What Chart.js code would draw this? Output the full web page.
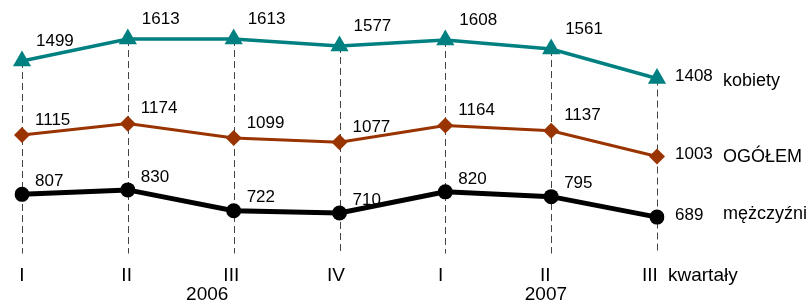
<!DOCTYPE html>
<html>
<head>
<meta charset="utf-8">
<script src="https://cdn.jsdelivr.net/npm/chart.js@4/dist/chart.umd.min.js"></script>
<style>
html, body { margin: 0; padding: 0; background: #fff; }
#wrap { width: 811px; height: 305px; }
</style>
</head>
<body>
<div id="wrap"><canvas id="chart"></canvas></div>
<script>
// kwartały 2006 I – 2007 III
const quarters = ['I', 'II', 'III', 'IV', 'I', 'II', 'III'];
const kobiety = [1499, 1613, 1613, 1577, 1608, 1561, 1408];
const ogolem = [1115, 1174, 1099, 1077, 1164, 1137, 1003];
const mezczyzni = [807, 830, 722, 710, 820, 795, 689];
const seriesNames = ['kobiety', 'OGÓŁEM', 'mężczyźni'];
const years = ['2006', '2007'];

const FAMILY = '"Liberation Sans", Arial, sans-serif';

// dashed drop lines, value labels, series names, quarter/year labels
const extras = {
  id: 'extras',
  beforeDatasetsDraw(chart) {
    const ctx = chart.ctx;
    const area = chart.chartArea;
    ctx.save();
    ctx.strokeStyle = '#444';
    ctx.lineWidth = 1;
    ctx.setLineDash([7, 4]);
    chart.getDatasetMeta(0).data.forEach(pt => {
      const x = Math.round(pt.x) + 0.5;
      ctx.beginPath();
      ctx.moveTo(x, pt.y);
      ctx.lineTo(x, area.bottom);
      ctx.stroke();
    });
    ctx.restore();
  },
  afterDatasetsDraw(chart, args, opts) {
    const ctx = chart.ctx;
    ctx.save();
    ctx.fillStyle = '#000';
    ctx.textBaseline = 'middle';
    ctx.textAlign = 'left';
    chart.data.datasets.forEach((ds, di) => {
      const pts = chart.getDatasetMeta(di).data;
      ctx.font = '17px ' + FAMILY;
      pts.forEach((pt, i) => {
        if (i == pts.length - 1) {
          ctx.fillText(ds.data[i], pt.x + 18, pt.y - 2);
        } else {
          ctx.fillText(ds.data[i], pt.x + ds.lblDx, pt.y + ds.lblDy);
        }
      });
      const last = pts[pts.length - 1];
      ctx.font = '18px ' + FAMILY;
      ctx.fillText(seriesNames[di], last.x + 66, last.y + ds.nameDy);
    });

    const xs = chart.scales.x;
    const area = chart.chartArea;
    ctx.font = '19px ' + FAMILY;
    ctx.fillText('kwartały', area.right + 11, opts.tickY);
    ctx.textAlign = 'center';
    quarters.forEach((q, i) => {
      ctx.fillText(q, xs.getPixelForTick(i) - i * 1.2, opts.tickY);
    });
    years.forEach((y, k) => {
      ctx.fillText(y, xs.getPixelForValue(opts.yearAt[k]), opts.yearY);
    });
    ctx.restore();
  }
};

new Chart(document.getElementById('chart'), {
  type: 'line',
  data: {
    labels: quarters,
    datasets: [{
      label: seriesNames[0],
      data: kobiety,
      borderColor: '#008080',
      backgroundColor: '#008080',
      borderWidth: 3.5,
      pointStyle: 'triangle',
      pointRadius: 10.5,
      pointBorderWidth: 0,
      lblDx: 14, lblDy: -20, nameDy: 2
    }, {
      label: seriesNames[1],
      data: ogolem,
      borderColor: '#993300',
      backgroundColor: '#993300',
      borderWidth: 3,
      pointStyle: 'rectRot',
      pointRadius: 8,
      pointBorderWidth: 0,
      lblDx: 13, lblDy: -15, nameDy: 0
    }, {
      label: seriesNames[2],
      data: mezczyzni,
      borderColor: '#000',
      backgroundColor: '#000',
      borderWidth: 5,
      pointStyle: 'circle',
      pointRadius: 7.5,
      pointBorderWidth: 0,
      lblDx: 13, lblDy: -13, nameDy: -3
    }]
  },
  options: {
    responsive: true,
    maintainAspectRatio: false,
    animation: false,
    layout: { autoPadding: false, padding: { left: 22, right: 154, top: 3, bottom: 51.5 } },
    scales: {
      x: {
        display: false,
        offset: false
      },
      y: {
        display: false,
        min: 500,
        max: 1800
      }
    },
    plugins: {
      legend: { display: false },
      tooltip: { enabled: false },
      extras: { tickY: 276, yearY: 295, yearAt: [1.75, 4.95] }
    }
  },
  plugins: [extras]
});
</script>
</body>
</html>
